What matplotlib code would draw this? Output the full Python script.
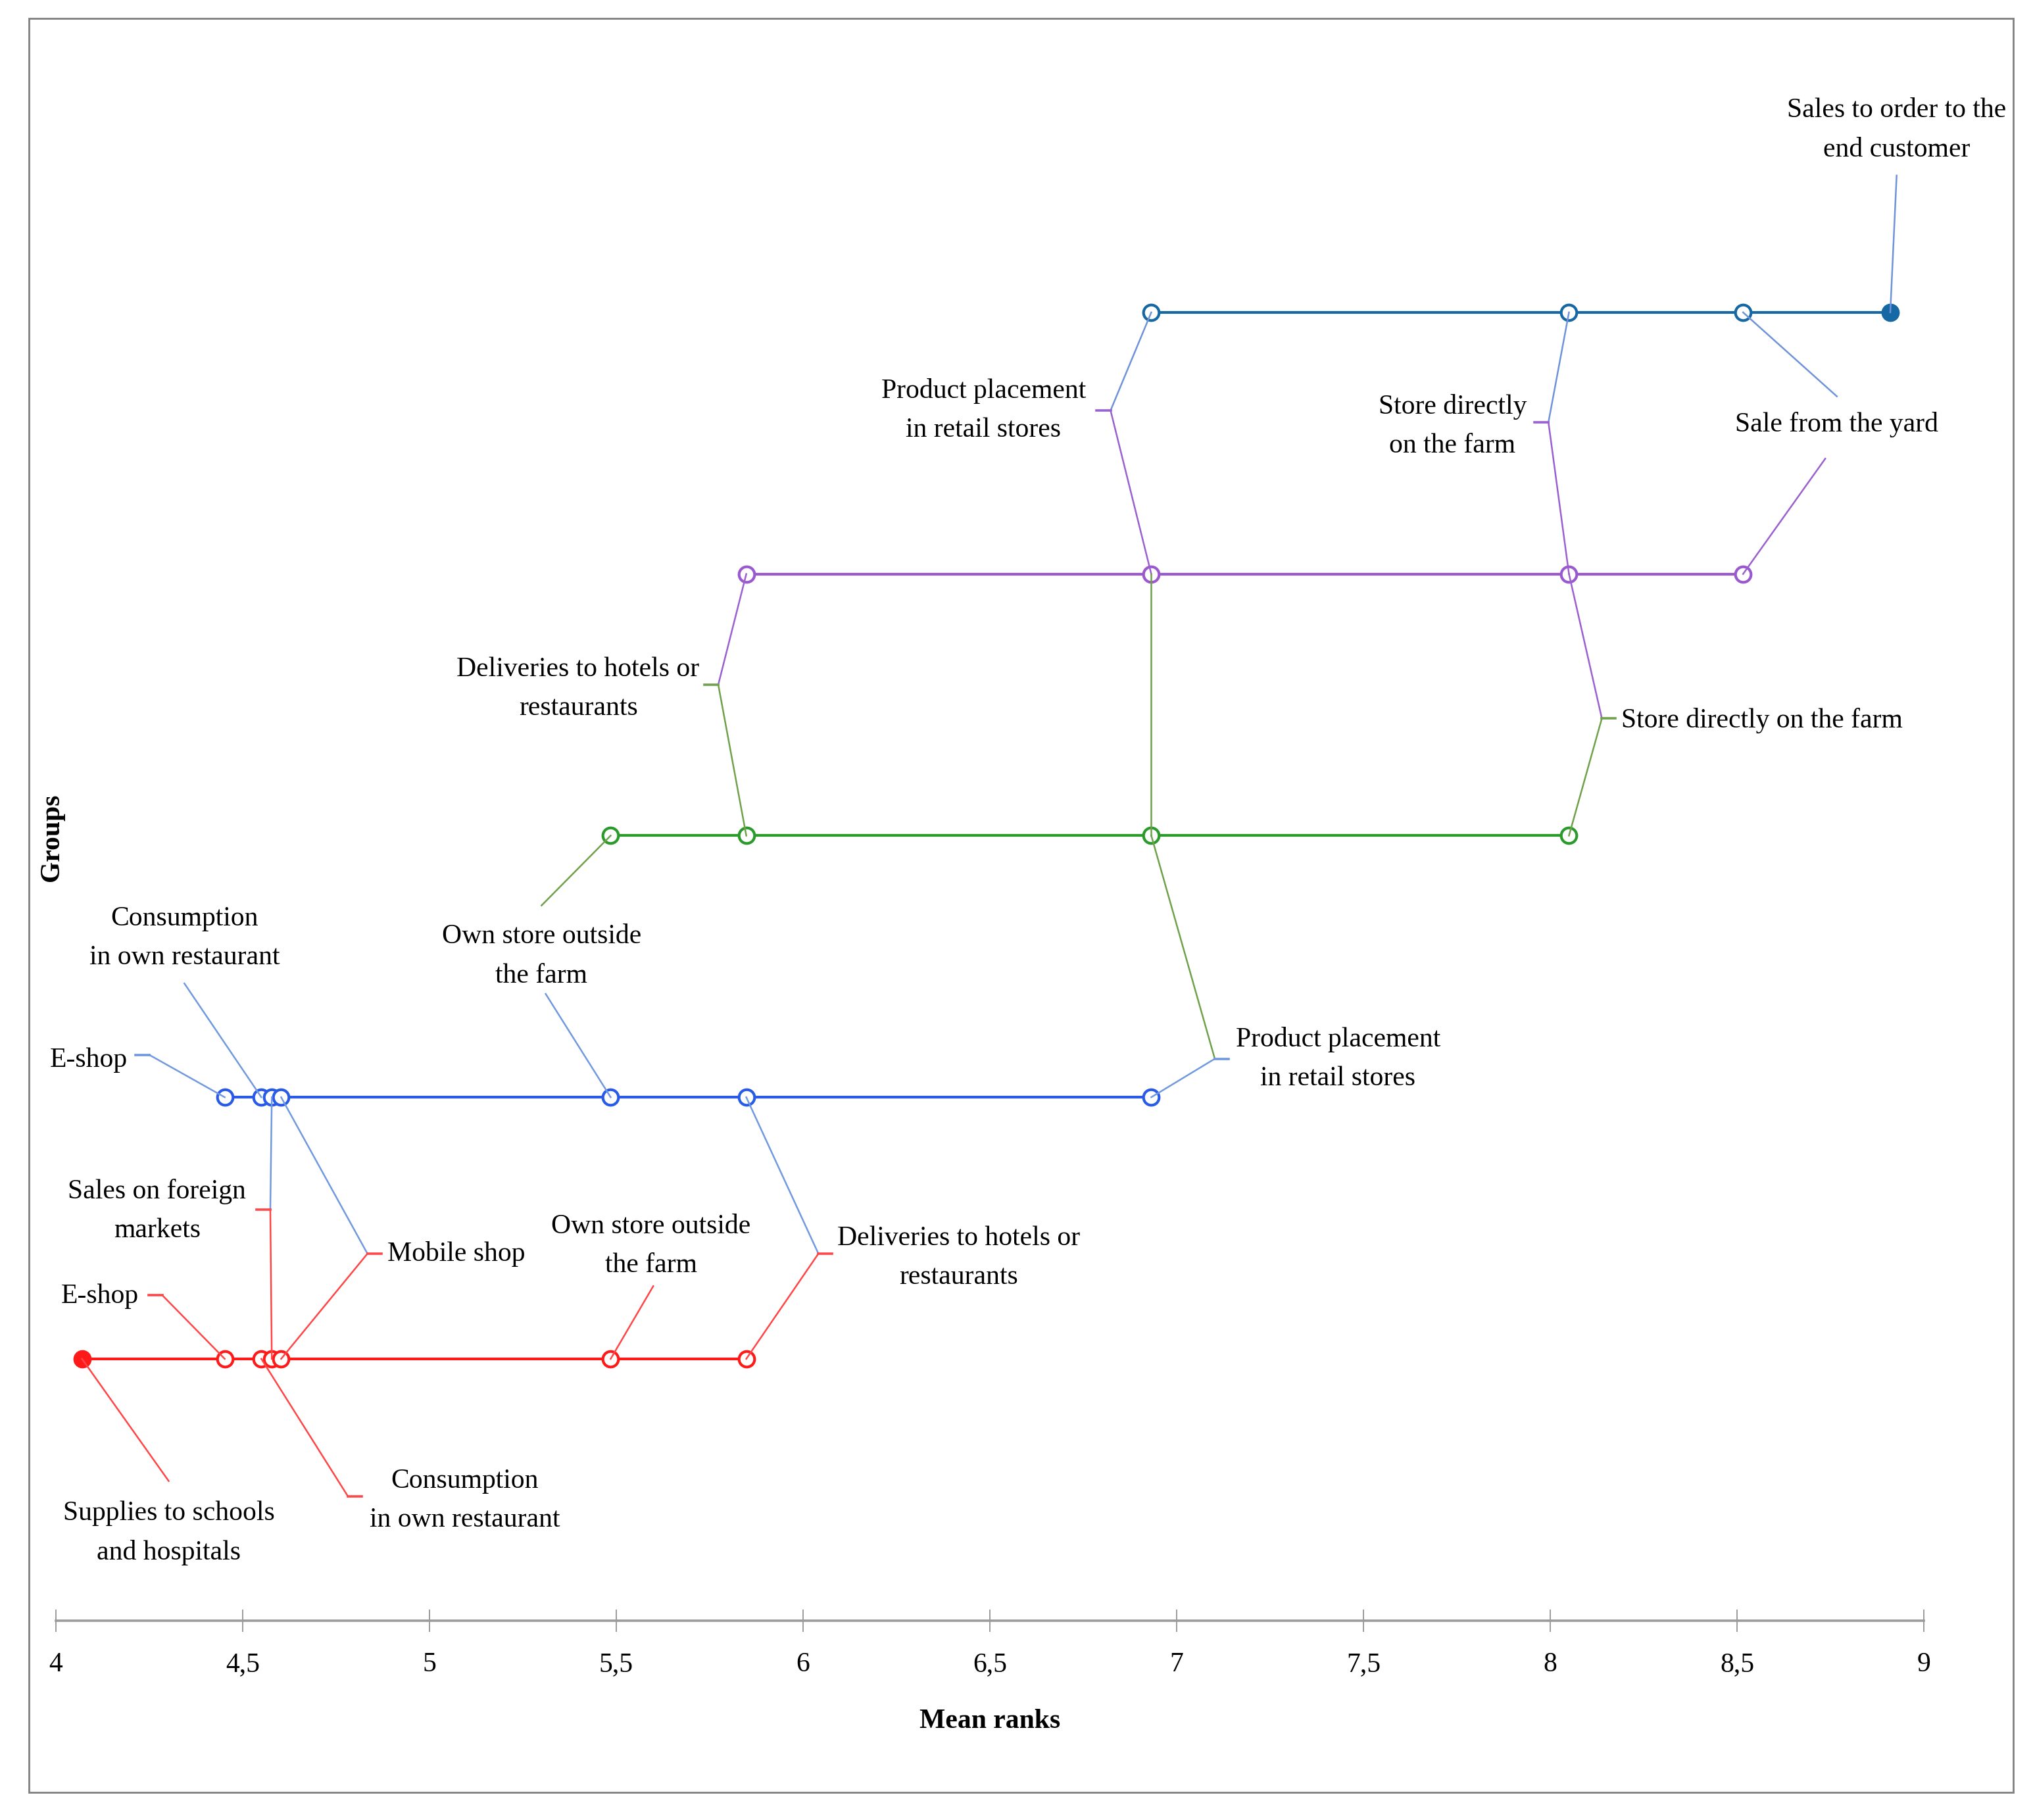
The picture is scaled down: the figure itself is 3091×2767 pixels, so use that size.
import matplotlib
matplotlib.use("Agg")
import matplotlib.pyplot as plt
from matplotlib.patches import Rectangle
from matplotlib.ticker import FuncFormatter

plt.rcParams["font.family"] = ["Liberation Serif", "DejaVu Serif"]

# distribution channels and their mean ranks
channels = ["Supplies to schools and hospitals", "E-shop", "Consumption in own restaurant",
            "Sales on foreign markets", "Mobile shop", "Own store outside the farm",
            "Deliveries to hotels or restaurants", "Product placement in retail stores",
            "Store directly on the farm", "Sale from the yard",
            "Sales to order to the end customer"]
mean_ranks = [4.07, 4.452, 4.55, 4.578, 4.603, 5.485, 5.848, 6.932, 8.05, 8.516, 8.91]

# homogeneous groups (indices into channels), bottom to top
group1 = [0, 1, 2, 3, 4, 5, 6]
group2 = [1, 2, 3, 4, 5, 6, 7]
group3 = [5, 6, 7, 8]
group4 = [6, 7, 8, 9]
group5 = [7, 8, 9, 10]
groups = [group1, group2, group3, group4, group5]
filled = {1: 0, 5: 10}  # group -> channel drawn as solid dot

line_colors = ["#ff1a1a", "#2a5be8", "#2a9a2a", "#9b59d0", "#1668a4"]
lead_colors = ["#ff4545", "#7099e0", "#6fa14a", "#9b5fd0", "#6f93d9"]

xticks = [4, 4.5, 5, 5.5, 6, 6.5, 7, 7.5, 8, 8.5, 9]

# label layout: text, channel, text position, ha, {group: anchor}, tick at anchor
labels = [
    ("Sales to order to the\nend customer", 10, (8.927, 5.697), "center", {5: (8.927, 5.523)}, False),
    ("Product placement\nin retail stores", 7, (6.483, 4.625), "center", {5: (6.823, 4.625), 4: (6.823, 4.625)}, True),
    ("Store directly\non the farm", 8, (7.738, 4.565), "center", {5: (7.995, 4.58), 4: (7.995, 4.58)}, True),
    ("Sale from the yard", 9, (8.767, 4.57), "center", {5: (8.767, 4.679), 4: (8.736, 4.441)}, False),
    ("Deliveries to hotels or\nrestaurants", 6, (5.398, 3.562), "center", {4: (5.773, 3.577), 3: (5.773, 3.577)}, True),
    ("Store directly on the farm", 8, (8.19, 3.44), "left", {4: (8.138, 3.448), 3: (8.138, 3.448)}, True),
    ("Product placement\nin retail stores", 7, (7.432, 2.147), "center", {3: (7.102, 2.147), 2: (7.102, 2.147)}, True),
    ("Own store outside\nthe farm", 5, (5.30, 2.539), "center", {3: (5.30, 2.733), 2: (5.311, 2.395)}, False),
    ("Consumption\nin own restaurant", 2, (4.344, 2.609), "center", {2: (4.344, 2.435)}, False),
    ("E-shop", 1, (4.087, 2.142), "center", {2: (4.25, 2.162)}, True),
    ("Sales on foreign\nmarkets", 3, (4.271, 1.566), "center", {2: (4.574, 1.571), 1: (4.574, 1.571)}, True),
    ("Mobile shop", 4, (4.887, 1.40), "left", {2: (4.834, 1.402), 1: (4.834, 1.402)}, True),
    ("Own store outside\nthe farm", 5, (5.593, 1.432), "center", {1: (5.599, 1.278)}, False),
    ("Deliveries to hotels or\nrestaurants", 6, (6.417, 1.387), "center", {2: (6.041, 1.402), 1: (6.041, 1.402)}, True),
    ("E-shop", 1, (4.118, 1.238), "center", {1: (4.285, 1.243)}, True),
    ("Supplies to schools\nand hospitals", 0, (4.302, 0.335), "center", {1: (4.302, 0.533)}, False),
    ("Consumption\nin own restaurant", 2, (5.095, 0.459), "center", {1: (4.782, 0.474)}, True),
]
# direct links between the same channel in neighbouring groups
links = [(7, 4, 3)]

fig = plt.figure(figsize=(15.455, 13.835), dpi=200)
ax = fig.add_axes([0, 0, 1, 1])
ax.set_xlim(3.8505, 9.292)
ax.set_ylim(-0.7627, 6.194)
ax.patch.set_visible(False)

for g, members in enumerate(groups, start=1):
    xs = [mean_ranks[i] for i in members]
    col = line_colors[g - 1]
    ax.plot([min(xs), max(xs)], [g, g], color=col, lw=1.5, zorder=2, solid_capstyle="butt")
    for i in members:
        if filled.get(g) == i:
            ax.plot(mean_ranks[i], g, "o", ms=9, mfc=col, mec=col, zorder=3)
        else:
            ax.plot(mean_ranks[i], g, "o", ms=8.5, mfc="white", mec=col, mew=1.5, zorder=3)

tick_len = 0.037
for text, ch, (tx, ty), ha, anchors, tick in labels:
    ax.text(tx, ty, text, ha=ha, va="center", fontsize=15, linespacing=1.7, zorder=5)
    for g, (axx, ayy) in anchors.items():
        ax.plot([axx, mean_ranks[ch]], [ayy, g], color=lead_colors[g - 1], lw=0.9, zorder=4)
    if tick:
        axx, ayy = list(anchors.values())[0]
        d = tick_len if tx > axx else -tick_len
        tcol = lead_colors[min(anchors) - 1]
        ax.plot([axx, axx + d], [ayy, ayy], color=tcol, lw=1.3, zorder=4)

for ch, gu, gl in links:
    ax.plot([mean_ranks[ch], mean_ranks[ch]], [gu, gl], color=lead_colors[gl - 1], lw=0.9, zorder=4)

# x axis
for s in ["left", "right", "top"]:
    ax.spines[s].set_visible(False)
ax.spines["bottom"].set_position(("data", 0))
ax.spines["bottom"].set_bounds(4, 9)
ax.spines["bottom"].set_color("#9a9a9a")
ax.spines["bottom"].set_linewidth(1.3)
ax.set_yticks([])
ax.set_xticks(xticks)
ax.xaxis.set_major_formatter(FuncFormatter(lambda v, p: ("%g" % v).replace(".", ",")))
ax.tick_params(axis="x", direction="inout", length=12.5, width=0.6, color="#8a8a8a",
               labelsize=15, pad=11)
ax.text(6.5, -0.385, "Mean ranks", ha="center", va="center", fontsize=15, fontweight="bold")
fig.text(0.0256, 0.540, "Groups", rotation=90, ha="center", va="center", fontsize=15, fontweight="bold")

fig.patches.append(Rectangle((0.0141, 0.015), 0.9763, 0.975, transform=fig.transFigure,
                             fill=False, edgecolor="#808080", lw=1.0))

fig.savefig("out.png", dpi=200)
